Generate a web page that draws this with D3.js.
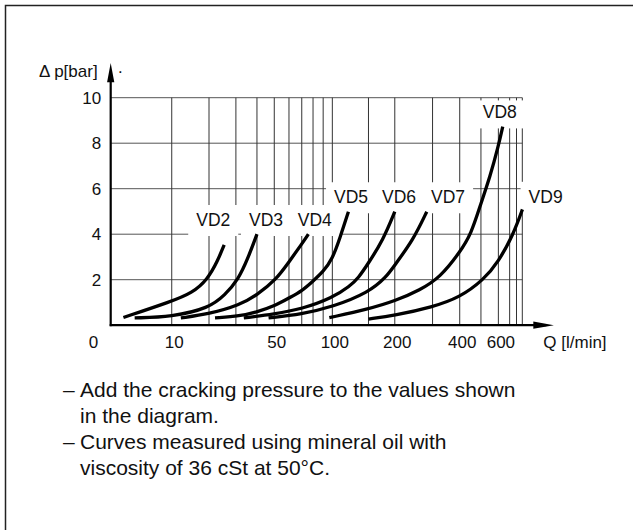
<!DOCTYPE html>
<html>
<head>
<meta charset="utf-8">
<script src="https://cdn.jsdelivr.net/npm/d3@7"></script>
<style>
  body { margin: 0; background: #fff; }
  svg { display: block; }
</style>
</head>
<body>
<div id="chart"></div>
<script>
// Data
const seriesNames = ['VD2', 'VD3', 'VD4', 'VD5', 'VD6', 'VD7', 'VD8', 'VD9']

// flow Q [l/min] per curve
const flowValues = [
  [1.6, 10, 15, 19.5, 23, 25.3],
  [3.2, 10, 20, 25.6, 31, 35.5, 40],
  [12.1, 20, 31.8, 40, 51, 60, 70, 75.7],
  [22, 31.8, 40, 51, 60, 70, 80, 90, 100, 109, 120],
  [33.5, 50, 70, 100, 122, 134, 150, 176, 200],
  [46.5, 70, 100, 150, 183, 200, 244, 282],
  [96.6, 150, 200, 263, 325, 400, 451, 500, 550, 600, 628],
  [150, 200, 300, 400, 513, 600, 702, 771]
]

// pressure drop [bar] per curve
const dropValues = [
  [0.34, 1.05, 1.42, 2.0, 2.85, 3.53],
  [0.32, 0.37, 0.75, 1.33, 2.0, 2.95, 4.0],
  [0.32, 0.49, 0.89, 1.33, 1.99, 2.78, 3.57, 4.0],
  [0.32, 0.40, 0.58, 0.87, 1.2, 1.5, 1.94, 2.35, 2.9, 3.83, 4.99],
  [0.32, 0.49, 0.71, 1.2, 1.72, 2.07, 2.73, 3.74, 4.99],
  [0.32, 0.49, 0.80, 1.43, 2.13, 2.65, 3.75, 4.99],
  [0.33, 0.71, 1.06, 1.55, 2.1, 3.2, 4.0, 5.36, 6.53, 7.88, 8.73],
  [0.27, 0.43, 0.8, 1.22, 1.99, 2.78, 4.0, 5.09]
]

// where each curve name sits (Q, Δp of the text baseline centre)
const labelFlow = [21.4, 45, 81.7, 123.6, 209.4, 353.7, 609, 981]
const labelDrop = [4.36, 4.36, 4.36, 5.36, 5.36, 5.36, 9.09, 5.38]

const flowTicks = [0, 10, 50, 100, 200, 400, 600]
const flowGrid = [10, 20, 30, 40, 50, 60, 70, 80, 90, 100, 150, 200, 300, 400, 500, 600, 675, 725, 770]
const dropTicks = [2, 4, 6, 8, 10]
const flowMax = 770
const dropMax = 10

const notes = [
  ['–', 'Add the cracking pressure to the values shown'],
  ['', 'in the diagram.'],
  ['–', 'Curves measured using mineral oil with'],
  ['', 'viscosity of 36 cSt at 50°C.']
]

function draw() {
  const font = "'Liberation Sans', Arial, Helvetica, sans-serif"

  // Dimensions
  let dimensions = {
    width: 633,
    height: 530,
    margins: { top: 97.7, right: 110.7, bottom: 204.8, left: 110.7 }
  }
  dimensions.ctrWidth = dimensions.width - dimensions.margins.left - dimensions.margins.right
  dimensions.ctrHeight = dimensions.height - dimensions.margins.top - dimensions.margins.bottom

  const svg = d3.select('#chart')
    .append('svg')
    .attr('width', dimensions.width)
    .attr('height', dimensions.height)
    .style('font-family', font)

  // frame (only top/left edges fall inside the picture)
  svg.append('rect')
    .attr('x', 5.5)
    .attr('y', 5.5)
    .attr('width', 700)
    .attr('height', 600)
    .attr('fill', 'none')
    .attr('stroke', '#222')
    .attr('stroke-width', 1.5)

  const ctr = svg.append('g')
    .attr('transform', `translate(${dimensions.margins.left},${dimensions.margins.top})`)

  // Scales
  const xScale = d3.scaleSymlog()
    .constant(11.5)
    .domain([0, flowMax])
    .range([0, dimensions.ctrWidth])

  const yScale = d3.scaleLinear()
    .domain([0, dropMax])
    .range([dimensions.ctrHeight, 0])

  // Grid
  ctr.selectAll('.hgrid')
    .data(dropTicks)
    .join('line')
    .classed('hgrid', true)
    .attr('x1', 0)
    .attr('x2', dimensions.ctrWidth)
    .attr('y1', d => yScale(d))
    .attr('y2', d => yScale(d))
    .attr('stroke', '#555')
    .attr('stroke-width', 1)

  ctr.selectAll('.vgrid')
    .data(flowGrid)
    .join('line')
    .classed('vgrid', true)
    .attr('x1', d => xScale(d))
    .attr('x2', d => xScale(d))
    .attr('y1', 0)
    .attr('y2', dimensions.ctrHeight)
    .attr('stroke', '#333')
    .attr('stroke-width', 1)

  // Curve labels with white boxes that cut the grid
  const labels = ctr.selectAll('.curve-label')
    .data(seriesNames)
    .join('g')
    .classed('curve-label', true)

  labels.append('text')
    .attr('x', (d, i) => xScale(labelFlow[i]))
    .attr('y', (d, i) => yScale(labelDrop[i]))
    .attr('text-anchor', 'middle')
    .attr('font-size', 17.5)
    .attr('fill', '#111')
    .text(d => d)

  labels.each(function(d) {
    const g = d3.select(this)
    const box = g.select('text').node().getBBox()
    const top = d === 'VD8' ? box.y - 2 : box.y - 5
    g.insert('rect', 'text')
      .attr('x', box.x - 8)
      .attr('y', top)
      .attr('width', box.width + 16)
      .attr('height', box.y + box.height + 6 - top)
      .attr('fill', 'white')
  })

  // Curves
  const lineGenerator = d3.line()
    .x(d => xScale(d[0]))
    .y(d => yScale(d[1]))
    .curve(d3.curveBasis)

  ctr.selectAll('.curve')
    .data(seriesNames.map((name, i) => d3.zip(flowValues[i], dropValues[i])))
    .join('path')
    .classed('curve', true)
    .attr('d', lineGenerator)
    .attr('fill', 'none')
    .attr('stroke', '#000')
    .attr('stroke-width', 3.3)

  // Axes
  const xAxis = d3.axisBottom(xScale)
    .tickValues(flowTicks)
    .tickSize(0)
    .tickPadding(11)
    .tickFormat(d3.format('d'))

  const xAxisGroup = ctr.append('g')
    .call(xAxis)
    .attr('transform', `translate(0,${dimensions.ctrHeight})`)
    .attr('font-family', font)
    .attr('font-size', 17)

  xAxisGroup.select('.domain').remove()
  xAxisGroup.selectAll('.tick text')
    .attr('fill', '#111')
    .attr('dx', d => d === 0 ? -17.7 : 2)

  const yAxis = d3.axisLeft(yScale)
    .tickValues(dropTicks)
    .tickSize(0)
    .tickPadding(9.5)

  const yAxisGroup = ctr.append('g')
    .call(yAxis)
    .attr('font-family', font)
    .attr('font-size', 17)

  yAxisGroup.select('.domain').remove()
  yAxisGroup.selectAll('.tick text').attr('fill', '#111')

  // axis lines with arrow heads
  ctr.append('line')
    .attr('x1', 0)
    .attr('x2', 0)
    .attr('y1', dimensions.ctrHeight + 1)
    .attr('y2', -17)
    .attr('stroke', '#000')
    .attr('stroke-width', 2.2)

  ctr.append('path')
    .attr('d', 'M0,-34.7 L-3.6,-15.5 L3.6,-15.5 Z')
    .attr('fill', '#000')

  ctr.append('line')
    .attr('x1', -1)
    .attr('x2', dimensions.ctrWidth + 24)
    .attr('y1', dimensions.ctrHeight)
    .attr('y2', dimensions.ctrHeight)
    .attr('stroke', '#000')
    .attr('stroke-width', 2.2)

  ctr.append('path')
    .attr('d', `M${dimensions.ctrWidth + 31.6},${dimensions.ctrHeight} L${dimensions.ctrWidth + 11},${dimensions.ctrHeight - 3.6} L${dimensions.ctrWidth + 11},${dimensions.ctrHeight + 3.6} Z`)
    .attr('fill', '#000')

  // axis titles
  svg.append('text')
    .attr('x', 39)
    .attr('y', 76.7)
    .attr('font-size', 17)
    .attr('fill', '#111')
    .text('Δ p[bar]')

  svg.append('text')
    .attr('x', 117.5)
    .attr('y', 76.5)
    .attr('font-size', 17)
    .attr('fill', '#111')
    .text('·')

  svg.append('text')
    .attr('x', 543.3)
    .attr('y', 348.3)
    .attr('font-size', 17)
    .attr('fill', '#111')
    .text('Q [l/min]')

  // Notes
  const noteGroup = svg.append('g')
    .attr('font-size', 21)
    .attr('fill', '#111')

  noteGroup.selectAll('.dash')
    .data(notes)
    .join('text')
    .classed('dash', true)
    .attr('x', 63)
    .attr('y', (d, i) => 397.4 + i * 26)
    .text(d => d[0])

  noteGroup.selectAll('.note')
    .data(notes)
    .join('text')
    .classed('note', true)
    .attr('x', 80)
    .attr('y', (d, i) => 397.4 + i * 26)
    .text(d => d[1])
}

draw()
</script>
</body>
</html>
